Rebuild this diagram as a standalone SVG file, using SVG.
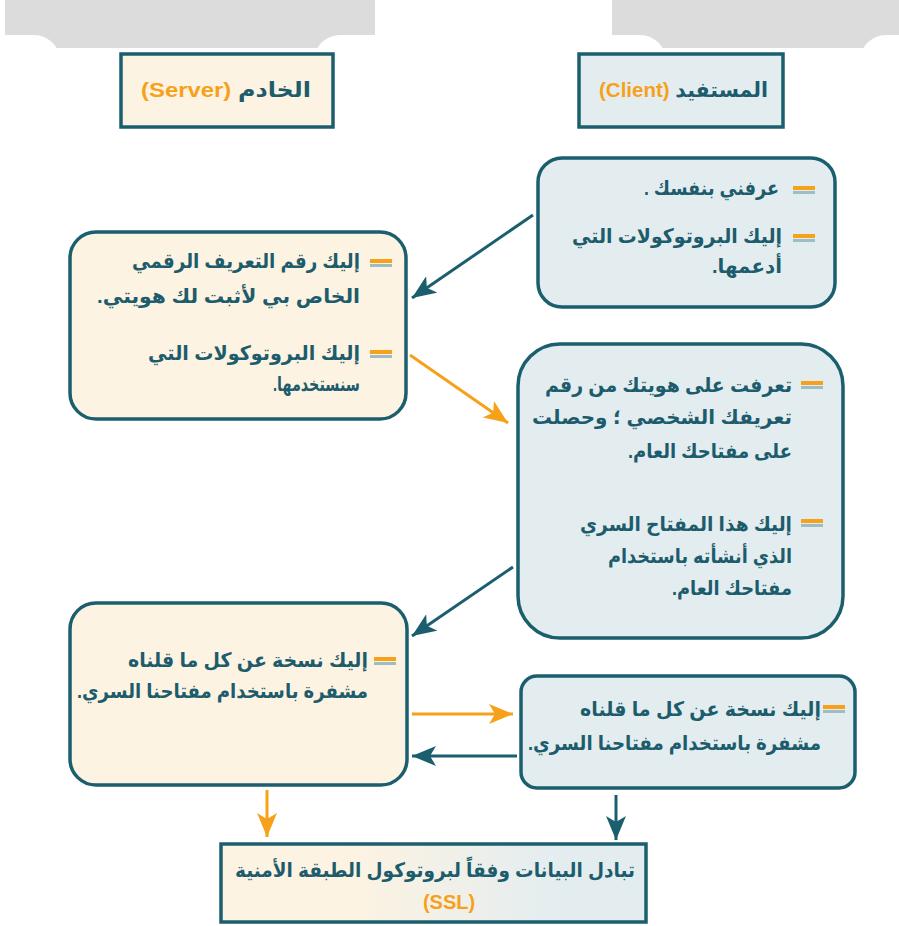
<svg xmlns="http://www.w3.org/2000/svg" width="899" height="926" viewBox="0 0 899 926">
<style>
  .ar { font-family: "Liberation Sans", "DejaVu Sans", sans-serif; font-size: 20px; font-weight: bold; fill: #1d5c6c; direction: rtl; }
  .hd { font-family: "Liberation Sans", "DejaVu Sans", sans-serif; font-size: 21px; font-weight: bold; fill: #1d5c6c; direction: rtl; }
  .or { fill: #f7a11a; }
  .srv { fill: #fdf3e2; stroke: #1b5f6f; stroke-width: 3.5; }
  .cli { fill: #e3edf0; stroke: #1b5f6f; stroke-width: 3.5; }
  .lt { stroke: #1b5f6f; stroke-width: 3; fill: none; }
  .lo { stroke: #f7a11a; stroke-width: 3; fill: none; }
</style>
<defs>
  <marker id="mt" markerUnits="userSpaceOnUse" markerWidth="26" markerHeight="20" refX="24" refY="10" orient="auto">
    <path d="M0,0 L24,10 L0,20 L6,10 Z" fill="#1b5f6f"/>
  </marker>
  <marker id="mo" markerUnits="userSpaceOnUse" markerWidth="26" markerHeight="20" refX="24" refY="10" orient="auto">
    <path d="M0,0 L24,10 L0,20 L6,10 Z" fill="#f7a11a"/>
  </marker>
  <g id="bul">
    <rect x="0" y="0" width="22" height="4" fill="#f7a11a"/>
    <rect x="0" y="5" width="22" height="3" fill="#9dbcc4"/>
  </g>
  <linearGradient id="gb" x1="0" y1="0" x2="1" y2="0">
    <stop offset="0.3" stop-color="#fdf3e2"/>
    <stop offset="0.8" stop-color="#e3edf0"/>
  </linearGradient>
</defs>

<g id="tabs">
  <rect x="5" y="0" width="370" height="48" fill="#dcdcdc"/>
  <rect x="-50" y="35" width="110" height="80" rx="26" fill="#ffffff"/>
  <rect x="314" y="35" width="110" height="80" rx="26" fill="#ffffff"/>
  <rect x="612" y="0" width="287" height="48" fill="#dcdcdc"/>
  <rect x="560" y="35" width="106" height="80" rx="26" fill="#ffffff"/>
  <rect x="860" y="35" width="110" height="80" rx="26" fill="#ffffff"/>
</g>

<g id="server-header">
  <rect class="srv" x="121" y="54" width="212" height="73"/>
  <text class="hd" x="311" y="97" text-anchor="start" textLength="170" lengthAdjust="spacingAndGlyphs">الخادم <tspan class="or">(Server)</tspan></text>
</g>

<g id="client-header">
  <rect class="cli" x="579" y="54" width="204" height="73"/>
  <text class="hd" x="768" y="97" text-anchor="start" textLength="169" lengthAdjust="spacingAndGlyphs">المستفيد <tspan class="or">(Client)</tspan></text>
</g>

<g id="client-1">
  <rect class="cli" x="538" y="158" width="297" height="149" rx="24"/>
  <use href="#bul" x="793" y="186"/>
  <use href="#bul" x="793" y="234"/>
  <text class="ar" x="779" y="195" text-anchor="start" textLength="135" lengthAdjust="spacingAndGlyphs">عرفني بنفسك .</text>
  <text class="ar" x="782" y="243" text-anchor="start" textLength="210" lengthAdjust="spacingAndGlyphs">إليك البروتوكولات التي</text>
  <text class="ar" x="782" y="273" text-anchor="start" textLength="70" lengthAdjust="spacingAndGlyphs">أدعمها.</text>
</g>

<g id="server-1">
  <rect class="srv" x="70" y="232" width="336" height="187" rx="26"/>
  <use href="#bul" x="370" y="259"/>
  <use href="#bul" x="370" y="350"/>
  <text class="ar" x="360" y="268" text-anchor="start" textLength="228" lengthAdjust="spacingAndGlyphs">إليك رقم التعريف الرقمي</text>
  <text class="ar" x="360" y="303" text-anchor="start" textLength="263" lengthAdjust="spacingAndGlyphs">الخاص بي لأثبت لك هويتي.</text>
  <text class="ar" x="360" y="360" text-anchor="start" textLength="212" lengthAdjust="spacingAndGlyphs">إليك البروتوكولات التي</text>
  <text class="ar" x="360" y="391" text-anchor="start" textLength="87" lengthAdjust="spacingAndGlyphs">سنستخدمها.</text>
</g>

<g id="client-2">
  <rect class="cli" x="518" y="344" width="325" height="294" rx="42"/>
  <use href="#bul" x="801" y="381"/>
  <use href="#bul" x="801" y="519"/>
  <text class="ar" x="792" y="392" text-anchor="start" textLength="247" lengthAdjust="spacingAndGlyphs">تعرفت على هويتك من رقم</text>
  <text class="ar" x="792" y="424" text-anchor="start" textLength="260" lengthAdjust="spacingAndGlyphs">تعريفك الشخصي ؛ وحصلت</text>
  <text class="ar" x="792" y="458" text-anchor="start" textLength="164" lengthAdjust="spacingAndGlyphs">على مفتاحك العام.</text>
  <text class="ar" x="792" y="531" text-anchor="start" textLength="212" lengthAdjust="spacingAndGlyphs">إليك هذا المفتاح السري</text>
  <text class="ar" x="792" y="563" text-anchor="start" textLength="184" lengthAdjust="spacingAndGlyphs">الذي أنشأته باستخدام</text>
  <text class="ar" x="792" y="595" text-anchor="start" textLength="120" lengthAdjust="spacingAndGlyphs">مفتاحك العام.</text>
</g>

<g id="server-2">
  <rect class="srv" x="70" y="603" width="337" height="182" rx="26"/>
  <use href="#bul" x="374" y="657"/>
  <text class="ar" x="368" y="667" text-anchor="start" textLength="240" lengthAdjust="spacingAndGlyphs">إليك نسخة عن كل ما قلناه</text>
  <text class="ar" x="368" y="698" text-anchor="start" textLength="291" lengthAdjust="spacingAndGlyphs">مشفرة باستخدام مفتاحنا السري.</text>
</g>

<g id="client-3">
  <rect class="cli" x="521" y="676" width="334" height="112" rx="16"/>
  <use href="#bul" x="823" y="705"/>
  <text class="ar" x="821" y="716" text-anchor="start" textLength="241" lengthAdjust="spacingAndGlyphs">إليك نسخة عن كل ما قلناه</text>
  <text class="ar" x="821" y="750" text-anchor="start" textLength="293" lengthAdjust="spacingAndGlyphs">مشفرة باستخدام مفتاحنا السري.</text>
</g>

<g id="ssl">
  <rect x="221" y="844" width="425" height="78" fill="url(#gb)" stroke="#1b5f6f" stroke-width="3.5"/>
  <text class="ar" x="435" y="877" text-anchor="middle" textLength="400" lengthAdjust="spacingAndGlyphs">تبادل البيانات وفقاً لبروتوكول الطبقة الأمنية</text>
  <text x="449" y="909" text-anchor="middle" font-family="Liberation Sans, sans-serif" font-size="20" font-weight="bold" fill="#f7a11a">(SSL)</text>
</g>

<g id="connectors">
  <line class="lt" x1="533" y1="215" x2="412" y2="298" marker-end="url(#mt)"/>
  <line class="lo" x1="410" y1="355" x2="508" y2="423" marker-end="url(#mo)"/>
  <line class="lt" x1="513" y1="567" x2="412" y2="636" marker-end="url(#mt)"/>
  <line class="lo" x1="412" y1="714" x2="513" y2="714" marker-end="url(#mo)"/>
  <line class="lt" x1="517" y1="756" x2="412" y2="756" marker-end="url(#mt)"/>
  <line class="lo" x1="267" y1="790" x2="267" y2="837" marker-end="url(#mo)"/>
  <line class="lt" x1="616" y1="795" x2="616" y2="840" marker-end="url(#mt)"/>
</g>
</svg>
